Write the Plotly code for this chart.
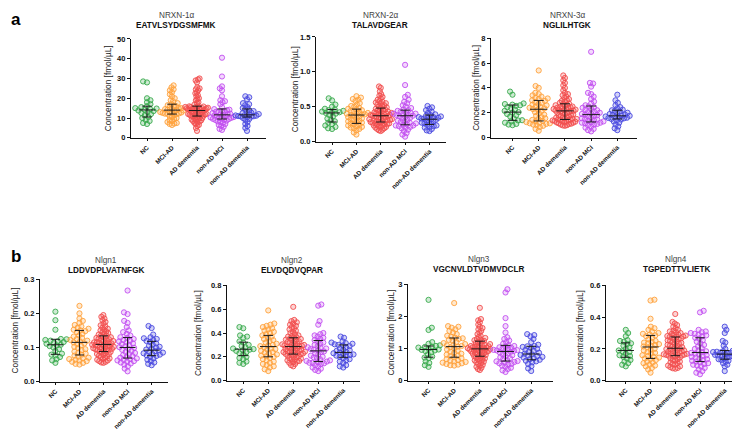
import numpy as np
import plotly.graph_objects as go

W, H = 740, 429
groups = ["NC", "MCI-AD", "AD dementia", "non-AD MCI", "non-AD dementia"]
colors = ["#3aaa4e", "#ffa23c", "#f24f4f", "#c24ff0", "#4a4ae0"]
fills = ["rgba(58,170,78,0.25)", "rgba(255,162,60,0.25)", "rgba(242,79,79,0.25)",
         "rgba(194,79,240,0.22)", "rgba(74,74,224,0.25)"]

# ---------------- NRXN-1a  EATVLSYDGSMFMK ----------------
nrxn1_nc = [28.5, 28, 20, 19, 18, 17, 16, 15.5, 15, 14.8, 14.5, 14.2, 13.8, 13.5, 13, 12.5, 12, 11.5,
            10.5, 10, 9, 8.5, 7.5, 7]
nrxn1_mci_ad = [26.5, 25.5, 24.5, 24, 23, 22, 21, 20, 19, 18.5, 17.5, 17, 16.5, 16, 16, 15.5, 15, 15, 14.5,
                14.5, 14.2, 14, 13.8, 13.5, 13.2, 13, 12.8, 12.6, 12.5, 12.3, 12.2, 12.1, 12, 11.5, 11, 10.5,
                10, 9.5, 9, 8.5, 8, 7.5, 7.2, 7, 6.5]
nrxn1_ad = [30, 29.5, 29, 28, 25.5, 25, 24.5, 24, 23, 22.5, 21.5, 21, 20, 19.5, 19, 18, 17.5, 16.8,
            16, 15.9, 15.8, 15.6, 15.5, 15.4, 15.2, 15.1, 15, 14.9, 14.8, 14.7, 14.5, 14.4, 14.3, 14.2, 14.1, 14,
            13.8, 13.6, 13.4, 13.2, 13, 12.8, 12.6, 12.5, 12.3, 12.1, 12, 11.8, 11.6, 11.5, 11.4, 11.3, 11.2, 11.1,
            10.8, 10.5, 10.2, 10, 9.8, 9.5, 9.2, 9, 8.8, 8.5, 8.2, 8, 7.5, 7, 6.5, 6, 5, 3.5]
nrxn1_nonad_mci = [40.5, 31, 26, 25, 24, 21, 19, 18.5, 18, 17, 15.5, 14.5, 14.2, 14, 13.5, 13.2, 13, 12.8,
                   12.5, 12.2, 12, 11.7, 11.5, 11.3, 11, 10.8, 10.5, 10.3, 10.1, 10, 9.8, 9.6, 9.5,
                   9.2, 9, 8.7, 8.3, 8, 7.5, 7, 6.5, 6, 5.5, 4.5, 4]
nrxn1_nonad_dem = [21, 20.5, 19.5, 17.5, 17, 16.5, 15.5, 15, 14.5, 14, 13.5, 13, 12.7, 12.4, 12, 11.8,
                   11.5, 11.3, 11.2, 11, 10.9, 10.8, 10.7, 10.5, 10, 9.5, 9, 8, 7, 6, 5, 3.5]
nrxn1_median = [14.1, 14, 13.8, 11.6, 11.6]
nrxn1_q1 = [10.5, 12, 11, 9.5, 10.5]
nrxn1_q3 = [16, 17, 16, 14.6, 14.6]

# ---------------- NRXN-2a  TALAVDGEAR ----------------
nrxn2_nc = [0.62, 0.59, 0.53, 0.5, 0.47, 0.46, 0.45, 0.44, 0.43, 0.42, 0.42, 0.41, 0.40, 0.38, 0.36, 0.33,
            0.31, 0.29, 0.27, 0.25, 0.23, 0.21, 0.19, 0.18]
nrxn2_mci_ad = [0.65, 0.63, 0.61, 0.6, 0.58, 0.55, 0.53, 0.51, 0.5, 0.48, 0.47, 0.46, 0.45, 0.44, 0.43, 0.42,
                0.41, 0.4, 0.4, 0.39, 0.39, 0.38, 0.37, 0.36, 0.35, 0.34, 0.33, 0.32, 0.31, 0.3, 0.29, 0.28,
                0.27, 0.26, 0.25, 0.24, 0.23, 0.22, 0.21, 0.2, 0.19, 0.18, 0.16, 0.13, 0.1]
nrxn2_ad = [0.79, 0.77, 0.72, 0.68, 0.66, 0.64, 0.62, 0.6, 0.58, 0.57, 0.56, 0.55, 0.54, 0.53, 0.52, 0.51, 0.5, 0.49,
            0.48, 0.47, 0.46, 0.46, 0.45, 0.44, 0.43, 0.43, 0.42, 0.41, 0.41, 0.4, 0.4, 0.39, 0.39, 0.38, 0.38, 0.37,
            0.37, 0.36, 0.36, 0.35, 0.35, 0.34, 0.33, 0.33, 0.32, 0.32, 0.31, 0.31, 0.3, 0.3, 0.29, 0.29, 0.28, 0.28,
            0.27, 0.27, 0.26, 0.26, 0.25, 0.25, 0.24, 0.23, 0.23, 0.22, 0.21, 0.21, 0.2, 0.19, 0.18, 0.17, 0.16, 0.15]
nrxn2_nonad_mci = [1.1, 0.81, 0.67, 0.64, 0.6, 0.57, 0.55, 0.52, 0.5, 0.48, 0.46, 0.45, 0.44, 0.43, 0.42, 0.41,
                   0.4, 0.4, 0.39, 0.38, 0.38, 0.37, 0.36, 0.35, 0.34, 0.33, 0.31, 0.3, 0.29, 0.28, 0.27, 0.26,
                   0.25, 0.24, 0.23, 0.23, 0.22, 0.21, 0.2, 0.19, 0.17, 0.15, 0.12, 0.1, 0.07]
nrxn2_nonad_dem = [0.51, 0.49, 0.47, 0.45, 0.43, 0.41, 0.39, 0.38, 0.37, 0.36, 0.35, 0.35, 0.34, 0.34, 0.33, 0.33,
                   0.32, 0.31, 0.3, 0.29, 0.28, 0.27, 0.26, 0.25, 0.24, 0.23, 0.22, 0.21, 0.2, 0.18, 0.16, 0.15]
nrxn2_median = [0.41, 0.38, 0.37, 0.37, 0.32]
nrxn2_q1 = [0.28, 0.26, 0.28, 0.24, 0.245]
nrxn2_q3 = [0.46, 0.465, 0.48, 0.45, 0.38]

# ---------------- NRXN-3a  NGLILHTGK ----------------
nrxn3_nc = [3.7, 3.45, 2.75, 2.7, 2.65, 2.6, 2.55, 2.45, 2.35, 2.25, 2.15, 2.05, 2.0, 1.9, 1.8, 1.7, 1.55, 1.4,
            1.38, 1.3, 1.2, 1.1, 1.05, 1.0]
nrxn3_mci_ad = [5.4, 4.15, 4.0, 3.6, 3.5, 3.4, 3.3, 3.2, 3.15, 3.1, 3.0, 2.95, 2.85, 2.8, 2.7, 2.65, 2.6, 2.5,
                2.45, 2.4, 2.35, 2.3, 2.25, 2.15, 2.05, 1.95, 1.85, 1.75, 1.65, 1.55, 1.5, 1.42, 1.35,
                1.3, 1.25, 1.2, 1.15, 1.15, 1.1, 1.05, 1.0, 0.95, 0.85, 0.7, 0.55]
nrxn3_ad = [5.0, 4.8, 4.6, 4.4, 4.2, 4.0, 3.8, 3.6, 3.5, 3.4, 3.3, 3.2, 3.1, 3.0, 2.95, 2.9, 2.8, 2.75,
            2.7, 2.65, 2.6, 2.55, 2.5, 2.5, 2.45, 2.4, 2.4, 2.35, 2.3, 2.3, 2.25, 2.22, 2.2, 2.18, 2.16, 2.15,
            2.1, 2.05, 2.0, 1.98, 1.95, 1.9, 1.85, 1.8, 1.78, 1.75, 1.7, 1.65, 1.62, 1.6, 1.55, 1.52, 1.5, 1.47,
            1.45, 1.42, 1.4, 1.38, 1.35, 1.32, 1.3, 1.28, 1.25, 1.22, 1.2, 1.15, 1.12, 1.1, 1.05, 1.0, 0.98, 0.95]
nrxn3_nonad_mci = [6.9, 4.4, 4.35, 4.1, 3.6, 3.5, 3.3, 3.1, 2.9, 2.75, 2.6, 2.5, 2.45, 2.4, 2.3, 2.25, 2.2,
                   2.1, 2.05, 2.0, 1.95, 1.9, 1.85, 1.8, 1.75, 1.7, 1.6, 1.55, 1.5, 1.45, 1.4, 1.35, 1.3,
                   1.25, 1.2, 1.2, 1.15, 1.1, 1.05, 1.0, 0.9, 0.8, 0.7, 0.6, 0.5]
nrxn3_nonad_dem = [3.45, 3.0, 2.8, 2.6, 2.45, 2.35, 2.25, 2.2, 2.15, 2.1, 2.0, 1.95, 1.9, 1.85, 1.8, 1.78,
                   1.75, 1.7, 1.68, 1.65, 1.6, 1.58, 1.55, 1.5, 1.45, 1.4, 1.3, 1.2, 1.05, 0.9, 0.75, 0.6]
nrxn3_median = [2.05, 2.28, 2.15, 1.85, 1.75]
nrxn3_q1 = [1.39, 1.34, 1.46, 1.26, 1.5]
nrxn3_q3 = [2.62, 2.99, 2.72, 2.54, 2.2]

# ---------------- Nlgn1  LDDVDPLVATNFGK ----------------
nlgn1_nc = [0.205, 0.18, 0.152, 0.125, 0.124, 0.122, 0.12, 0.118, 0.116, 0.114, 0.111, 0.108, 0.106, 0.104,
            0.1, 0.095, 0.09, 0.082, 0.079, 0.077, 0.072, 0.066, 0.062, 0.055]
nlgn1_mci_ad = [0.222, 0.2, 0.185, 0.178, 0.172, 0.166, 0.162, 0.158, 0.155, 0.152, 0.15, 0.148, 0.145, 0.14,
                0.135, 0.132, 0.128, 0.125, 0.122, 0.12, 0.118, 0.115, 0.112, 0.11, 0.106, 0.102, 0.098, 0.095,
                0.092, 0.088, 0.085, 0.082, 0.079, 0.076, 0.073, 0.07, 0.068, 0.066, 0.064, 0.062, 0.06, 0.058,
                0.055, 0.052, 0.05]
nlgn1_ad = [0.195, 0.19, 0.185, 0.18, 0.175, 0.17, 0.165, 0.162, 0.158, 0.155, 0.152, 0.15, 0.147, 0.145, 0.142,
            0.14, 0.138, 0.135, 0.134, 0.132, 0.13, 0.128, 0.127, 0.125, 0.124, 0.122, 0.12, 0.119, 0.118, 0.116,
            0.115, 0.114, 0.113, 0.112, 0.11, 0.109, 0.108, 0.107, 0.106, 0.105, 0.104, 0.103, 0.102, 0.1, 0.099,
            0.098, 0.097, 0.096, 0.095, 0.094, 0.093, 0.092, 0.09, 0.088, 0.087, 0.085, 0.083, 0.081, 0.08, 0.078,
            0.076, 0.074, 0.072, 0.07, 0.068, 0.066, 0.064, 0.062, 0.06, 0.058, 0.056, 0.055]
nlgn1_nonad_mci = [0.267, 0.203, 0.198, 0.178, 0.172, 0.16, 0.15, 0.145, 0.14, 0.135, 0.13, 0.128, 0.125, 0.122,
                   0.12, 0.118, 0.115, 0.112, 0.11, 0.107, 0.104, 0.101, 0.099, 0.096, 0.093, 0.09, 0.087, 0.084,
                   0.081, 0.078, 0.075, 0.072, 0.07, 0.068, 0.066, 0.064, 0.062, 0.06, 0.058, 0.056, 0.053, 0.05,
                   0.045, 0.038, 0.03]
nlgn1_nonad_dem = [0.163, 0.157, 0.138, 0.13, 0.127, 0.125, 0.122, 0.119, 0.116, 0.112, 0.108, 0.105, 0.102, 0.1,
                   0.097, 0.094, 0.091, 0.089, 0.087, 0.085, 0.083, 0.081, 0.079, 0.077, 0.075, 0.072, 0.068,
                   0.064, 0.06, 0.056, 0.052, 0.048]
nlgn1_median = [0.108, 0.115, 0.109, 0.1, 0.092]
nlgn1_q1 = [0.08, 0.078, 0.088, 0.069, 0.076]
nlgn1_q3 = [0.124, 0.15, 0.134, 0.129, 0.118]

# ---------------- Nlgn2  ELVDQDVQPAR ----------------
nlgn2_nc = [0.45, 0.44, 0.38, 0.37, 0.36, 0.33, 0.32, 0.3, 0.29, 0.28, 0.27, 0.265, 0.26, 0.255, 0.25, 0.24,
            0.23, 0.22, 0.2, 0.19, 0.18, 0.16, 0.15, 0.14]
nlgn2_mci_ad = [0.59, 0.48, 0.47, 0.46, 0.45, 0.44, 0.43, 0.42, 0.41, 0.4, 0.39, 0.38, 0.37, 0.36, 0.35, 0.34,
                0.33, 0.32, 0.31, 0.3, 0.295, 0.29, 0.28, 0.27, 0.265, 0.26, 0.25, 0.24, 0.235, 0.23, 0.22, 0.21,
                0.205, 0.2, 0.19, 0.18, 0.17, 0.16, 0.15, 0.14, 0.13, 0.12, 0.11, 0.095, 0.08]
nlgn2_ad = [0.62, 0.51, 0.5, 0.49, 0.48, 0.47, 0.46, 0.45, 0.44, 0.43, 0.42, 0.41, 0.4, 0.39, 0.38, 0.375, 0.37,
            0.365, 0.36, 0.355, 0.35, 0.345, 0.34, 0.335, 0.33, 0.325, 0.32, 0.315, 0.31, 0.305, 0.3, 0.298,
            0.295, 0.292, 0.29, 0.287, 0.285, 0.28, 0.275, 0.27, 0.265, 0.26, 0.257, 0.254, 0.25, 0.247, 0.244,
            0.24, 0.237, 0.234, 0.23, 0.228, 0.225, 0.223, 0.22, 0.215, 0.21, 0.205, 0.2, 0.195, 0.19, 0.185,
            0.18, 0.175, 0.17, 0.165, 0.16, 0.155, 0.15, 0.14, 0.13, 0.12]
nlgn2_nonad_mci = [0.64, 0.63, 0.5, 0.47, 0.4, 0.39, 0.38, 0.37, 0.36, 0.35, 0.34, 0.33, 0.32, 0.31, 0.3, 0.29,
                   0.28, 0.275, 0.27, 0.265, 0.26, 0.255, 0.245, 0.24, 0.23, 0.22, 0.21, 0.2, 0.195, 0.19, 0.18,
                   0.17, 0.165, 0.16, 0.155, 0.15, 0.15, 0.145, 0.14, 0.13, 0.12, 0.11, 0.1, 0.09, 0.08]
nlgn2_nonad_dem = [0.37, 0.36, 0.33, 0.32, 0.315, 0.31, 0.305, 0.3, 0.295, 0.29, 0.28, 0.27, 0.26, 0.255, 0.25,
                   0.24, 0.235, 0.23, 0.225, 0.22, 0.215, 0.21, 0.205, 0.2, 0.19, 0.18, 0.17, 0.16, 0.15, 0.13,
                   0.12, 0.11]
nlgn2_median = [0.264, 0.286, 0.286, 0.25, 0.237]
nlgn2_q1 = [0.21, 0.2, 0.223, 0.16, 0.196]
nlgn2_q3 = [0.323, 0.38, 0.36, 0.337, 0.3]

# ---------------- Nlgn3  VGCNVLDTVDMVDCLR ----------------
nlgn3_nc = [2.52, 1.65, 1.58, 1.2, 1.15, 1.1, 1.08, 1.06, 1.05, 1.03, 1.0, 0.97, 0.96, 0.94, 0.92, 0.88, 0.82,
            0.75, 0.72, 0.7, 0.6, 0.55, 0.48, 0.43]
nlgn3_mci_ad = [2.42, 1.7, 1.68, 1.65, 1.6, 1.55, 1.5, 1.45, 1.4, 1.37, 1.34, 1.32, 1.3, 1.27, 1.24, 1.2, 1.17,
                1.14, 1.12, 1.1, 1.08, 1.06, 1.04, 1.0, 0.97, 0.93, 0.9, 0.87, 0.84, 0.81, 0.78, 0.76, 0.73,
                0.7, 0.67, 0.64, 0.62, 0.6, 0.58, 0.56, 0.54, 0.52, 0.5, 0.48, 0.47]
nlgn3_ad = [2.27, 1.92, 1.88, 1.82, 1.75, 1.68, 1.64, 1.6, 1.55, 1.5, 1.45, 1.4, 1.36, 1.33, 1.3, 1.28, 1.26, 1.24,
            1.22, 1.2, 1.18, 1.16, 1.14, 1.12, 1.1, 1.09, 1.08, 1.07, 1.06, 1.05, 1.04, 1.03, 1.02, 1.01, 1.0, 0.99,
            0.98, 0.97, 0.96, 0.95, 0.94, 0.93, 0.92, 0.91, 0.9, 0.89, 0.87, 0.86, 0.84, 0.83, 0.81, 0.8, 0.78, 0.76,
            0.75, 0.73, 0.71, 0.69, 0.67, 0.65, 0.63, 0.61, 0.59, 0.57, 0.55, 0.52, 0.49, 0.46, 0.43, 0.4, 0.36, 0.33]
nlgn3_nonad_mci = [2.85, 2.75, 1.95, 1.7, 1.5, 1.35, 1.3, 1.25, 1.2, 1.15, 1.1, 1.08, 1.06, 1.04, 1.02, 1.0, 0.98,
                   0.96, 0.95, 0.94, 0.93, 0.92, 0.9, 0.88, 0.85, 0.82, 0.79, 0.76, 0.73, 0.7, 0.67, 0.64, 0.61,
                   0.6, 0.58, 0.56, 0.54, 0.52, 0.5, 0.47, 0.44, 0.4, 0.36, 0.32, 0.27]
nlgn3_nonad_dem = [1.45, 1.42, 1.38, 1.3, 1.2, 1.12, 1.08, 1.07, 1.05, 1.02, 0.99, 0.96, 0.93, 0.9, 0.87, 0.84,
                   0.82, 0.8, 0.78, 0.76, 0.74, 0.72, 0.7, 0.67, 0.65, 0.62, 0.6, 0.57, 0.52, 0.45, 0.38, 0.3]
nlgn3_median = [0.97, 1.06, 0.99, 0.91, 0.83]
nlgn3_q1 = [0.73, 0.73, 0.76, 0.61, 0.65]
nlgn3_q3 = [1.08, 1.33, 1.23, 1.1, 1.07]

# ---------------- Nlgn4  TGPEDTTVLIETK ----------------
nlgn4_nc = [0.32, 0.3, 0.28, 0.255, 0.25, 0.245, 0.235, 0.23, 0.22, 0.21, 0.2, 0.19, 0.185, 0.18, 0.17, 0.16,
            0.155, 0.15, 0.14, 0.13, 0.12, 0.11, 0.1, 0.09]
nlgn4_mci_ad = [0.51, 0.505, 0.39, 0.34, 0.33, 0.32, 0.31, 0.3, 0.295, 0.29, 0.285, 0.28, 0.27, 0.26, 0.25,
                0.245, 0.24, 0.235, 0.23, 0.225, 0.22, 0.215, 0.21, 0.2, 0.195, 0.19, 0.18, 0.175, 0.17, 0.16,
                0.155, 0.15, 0.145, 0.14, 0.135, 0.13, 0.12, 0.115, 0.11, 0.1, 0.095, 0.09, 0.08, 0.07, 0.05]
nlgn4_ad = [0.42, 0.37, 0.36, 0.35, 0.34, 0.33, 0.32, 0.315, 0.31, 0.305, 0.3, 0.295, 0.29, 0.287, 0.284, 0.281,
            0.278, 0.276, 0.274, 0.27, 0.266, 0.262, 0.258, 0.254, 0.25, 0.246, 0.242, 0.238, 0.234, 0.23, 0.226,
            0.222, 0.218, 0.214, 0.21, 0.205, 0.202, 0.199, 0.196, 0.193, 0.19, 0.187, 0.184, 0.181, 0.178, 0.175,
            0.172, 0.169, 0.166, 0.164, 0.162, 0.16, 0.158, 0.157, 0.155, 0.15, 0.145, 0.14, 0.135, 0.13, 0.125,
            0.12, 0.115, 0.11, 0.105, 0.1, 0.095, 0.09, 0.085, 0.08, 0.078, 0.075]
nlgn4_nonad_mci = [0.44, 0.43, 0.32, 0.31, 0.305, 0.3, 0.295, 0.29, 0.285, 0.28, 0.27, 0.265, 0.255, 0.245, 0.235,
                   0.225, 0.215, 0.205, 0.2, 0.19, 0.185, 0.18, 0.175, 0.17, 0.165, 0.16, 0.155, 0.15, 0.145, 0.14,
                   0.135, 0.13, 0.125, 0.12, 0.115, 0.11, 0.105, 0.1, 0.095, 0.09, 0.08, 0.07, 0.06, 0.05, 0.04]
nlgn4_nonad_dem = [0.34, 0.32, 0.3, 0.25, 0.24, 0.22, 0.2, 0.19, 0.188, 0.185, 0.182, 0.18, 0.177, 0.174, 0.171,
                   0.168, 0.165, 0.162, 0.159, 0.156, 0.153, 0.15, 0.145, 0.14, 0.135, 0.13, 0.125, 0.12, 0.11,
                   0.1, 0.09, 0.06]
nlgn4_median = [0.19, 0.212, 0.204, 0.177, 0.167]
nlgn4_q1 = [0.147, 0.14, 0.157, 0.12, 0.135]
nlgn4_q3 = [0.238, 0.285, 0.275, 0.27, 0.19]

panels = [
    dict(top="NRXN-1α", pep="EATVLSYDGSMFMK",
         data=[nrxn1_nc, nrxn1_mci_ad, nrxn1_ad, nrxn1_nonad_mci, nrxn1_nonad_dem],
         med=nrxn1_median, q1=nrxn1_q1, q3=nrxn1_q3,
         xpx=(123, 258), xr=(-0.64, 4.76), ypx=(27.5, 128.5), ymax=50, dtick=10, fmt="d",
         tx=168, ty=(4, 14), ytx=100),
    dict(top="NRXN-2α", pep="TALAVDGEAR",
         data=[nrxn2_nc, nrxn2_mci_ad, nrxn2_ad, nrxn2_nonad_mci, nrxn2_nonad_dem],
         med=nrxn2_median, q1=nrxn2_q1, q3=nrxn2_q3,
         xpx=(308, 438), xr=(-0.66, 4.68), ypx=(25.5, 132.3), ymax=1.5, dtick=0.5, fmt=".1f",
         tx=372, ty=(4, 14), ytx=287),
    dict(top="NRXN-3α", pep="NGLILHTGK",
         data=[nrxn3_nc, nrxn3_mci_ad, nrxn3_ad, nrxn3_nonad_mci, nrxn3_nonad_dem],
         med=nrxn3_median, q1=nrxn3_q1, q3=nrxn3_q3,
         xpx=(483, 629), xr=(-0.82, 4.75), ypx=(26.7, 128.3), ymax=8, dtick=2, fmt="d",
         tx=559, ty=(4, 14), ytx=468),
    dict(top="Nlgn1", pep="LDDVDPLVATNFGK",
         data=[nlgn1_nc, nlgn1_mci_ad, nlgn1_ad, nlgn1_nonad_mci, nlgn1_nonad_dem],
         med=nlgn1_median, q1=nlgn1_q1, q3=nlgn1_q3,
         xpx=(32, 160), xr=(-0.64, 4.68), ypx=(273, 377.5), ymax=0.3, dtick=0.1, fmt=".1f",
         tx=98, ty=(254, 264.5), ytx=7),
    dict(top="Nlgn2", pep="ELVDQDVQPAR",
         data=[nlgn2_nc, nlgn2_mci_ad, nlgn2_ad, nlgn2_nonad_mci, nlgn2_nonad_dem],
         med=nlgn2_median, q1=nlgn2_q1, q3=nlgn2_q3,
         xpx=(219, 352), xr=(-0.65, 4.67), ypx=(279.3, 376.5), ymax=0.8, dtick=0.2, fmt=".1f",
         tx=284, ty=(254, 264.5), ytx=190),
    dict(top="Nlgn3", pep="VGCNVLDTVDMVDCLR",
         data=[nlgn3_nc, nlgn3_mci_ad, nlgn3_ad, nlgn3_nonad_mci, nlgn3_nonad_dem],
         med=nlgn3_median, q1=nlgn3_q1, q3=nlgn3_q3,
         xpx=(400, 545), xr=(-0.8, 4.85), ypx=(278.3, 376.5), ymax=3, dtick=1, fmt="d",
         tx=471, ty=(252.5, 263), ytx=383),
    dict(top="Nlgn4", pep="TGPEDTTVLIETK",
         data=[nlgn4_nc, nlgn4_mci_ad, nlgn4_ad, nlgn4_nonad_mci, nlgn4_nonad_dem],
         med=nlgn4_median, q1=nlgn4_q1, q3=nlgn4_q3,
         xpx=(598, 739), xr=(-0.8, 4.9), ypx=(279.3, 376.5), ymax=0.6, dtick=0.2, fmt=".1f",
         tx=668, ty=(252.5, 263), ytx=572),
]

FONT = "Liberation Sans, Arial, Helvetica, sans-serif"
MS = 5.2          # marker diameter (px)
SEP = 4.0         # min centre distance for swarm layout (px)
MAXW = 0.47       # max half width of a swarm, in category units


def swarm(vals, px_per_unit, d):
    vals = np.asarray(vals, float)
    order = np.argsort(vals)
    placed = []
    offs = np.zeros(len(vals))
    flip = 1
    for i in order:
        y = vals[i] * px_per_unit
        near = [(py, px) for py, px in placed if abs(py - y) < d]
        cands = [0.0]
        for py, px in near:
            dx = np.sqrt(max(d * d - (py - y) ** 2, 0))
            cands += [px + dx, px - dx]
        cands.sort(key=lambda c: (round(abs(c), 3), -flip * c))
        chosen = 0.0
        for c in cands:
            if all((c - px) ** 2 + (py - y) ** 2 >= d * d - 1e-6 for py, px in near):
                chosen = c
                break
        flip = -flip
        placed.append((y, chosen))
        offs[i] = chosen
    return offs


fig = go.Figure()
layout = dict(width=W, height=H, margin=dict(l=0, r=0, t=0, b=0),
              paper_bgcolor="white", plot_bgcolor="white", showlegend=False,
              font=dict(family=FONT, color="#222"))
annotations = []

for k, p in enumerate(panels):
    idx = "" if k == 0 else str(k + 1)
    xa, ya = "x" + idx, "y" + idx
    x0, x1 = p["xpx"]
    yt, yb = p["ypx"]
    cat_px = (x1 - x0) / (p["xr"][1] - p["xr"][0])
    ppu = (yb - yt) / p["ymax"]
    for g in range(5):
        vals = p["data"][g]
        offs = swarm(vals, ppu, SEP) / cat_px
        mx = np.max(np.abs(offs))
        if mx > MAXW:
            offs = offs * (MAXW / mx)
        fig.add_trace(go.Scatter(
            x=g + offs, y=vals, mode="markers", xaxis=xa, yaxis=ya,
            marker=dict(size=MS, color=fills[g], line=dict(color=colors[g], width=0.9)),
            hoverinfo="skip", cliponaxis=False))
    # median + IQR bars
    ex, ey = [], []
    for g in range(5):
        m, a, b = p["med"][g], p["q1"][g], p["q3"][g]
        ex += [g - 0.33, g + 0.33, None, g, g, None, g - 0.19, g + 0.19, None, g - 0.19, g + 0.19, None]
        ey += [m, m, None, a, b, None, a, a, None, b, b, None]
    fig.add_trace(go.Scatter(x=ex, y=ey, mode="lines", xaxis=xa, yaxis=ya,
                             line=dict(color="#1a1a1a", width=1.0), hoverinfo="skip"))

    layout["xaxis" + idx] = dict(
        domain=[x0 / W, x1 / W], anchor=ya, range=list(p["xr"]),
        tickmode="array", tickvals=list(range(5)), ticktext=groups, tickangle=-45,
        showgrid=False, zeroline=False, showline=True, linecolor="#111", linewidth=1.2,
        ticks="outside", ticklen=2.5, tickwidth=1.1, tickcolor="#111",
        tickfont=dict(family=FONT, size=6.4, color="#111", weight="bold"), fixedrange=True)
    layout["yaxis" + idx] = dict(
        domain=[1 - yb / H, 1 - yt / H], anchor=xa, range=[0, p["ymax"]],
        tickmode="linear", tick0=0, dtick=p["dtick"], tickformat=p["fmt"],
        showgrid=False, zeroline=False, showline=True, linecolor="#111", linewidth=1.2,
        ticks="outside", ticklen=3, tickwidth=1.1, tickcolor="#111",
        tickfont=dict(family=FONT, size=7.5, color="#111", weight="bold"), fixedrange=True)

    annotations.append(dict(x=p["tx"] / W, y=1 - p["ty"][0] / H, xref="paper", yref="paper",
                            text=p["top"], showarrow=False, xanchor="center", yanchor="middle",
                            font=dict(family=FONT, size=8.2, color="#444")))
    annotations.append(dict(x=p["tx"] / W, y=1 - p["ty"][1] / H, xref="paper", yref="paper",
                            text="<b>" + p["pep"] + "</b>", showarrow=False, xanchor="center",
                            yanchor="middle", font=dict(family=FONT, size=8.2, color="#111")))
    annotations.append(dict(x=p["ytx"] / W, y=1 - ((yt + yb) / 2) / H, xref="paper", yref="paper",
                            text="Concentration [fmol/µL]", showarrow=False, textangle=-90,
                            xanchor="center", yanchor="middle",
                            font=dict(family=FONT, size=8.3, color="#222")))

annotations.append(dict(x=8 / W, y=1 - 8 / H, xref="paper", yref="paper", text="<b>a</b>",
                        showarrow=False, xanchor="center", yanchor="middle",
                        font=dict(family=FONT, size=17, color="#000")))
annotations.append(dict(x=8 / W, y=1 - 250 / H, xref="paper", yref="paper", text="<b>b</b>",
                        showarrow=False, xanchor="center", yanchor="middle",
                        font=dict(family=FONT, size=17, color="#000")))
layout["annotations"] = annotations
fig.update_layout(**layout)
fig.write_html("out.html")
